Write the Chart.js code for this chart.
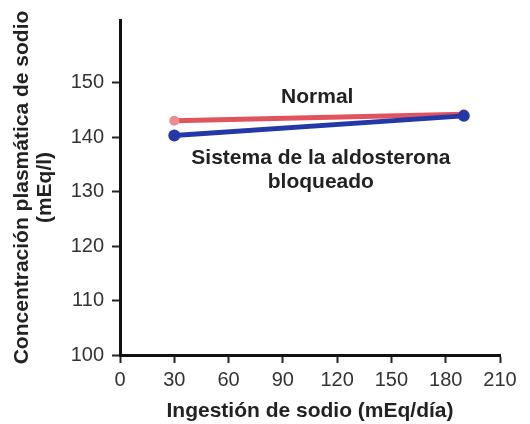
<!DOCTYPE html>
<html>
<head>
<meta charset="utf-8">
<script src="https://cdn.jsdelivr.net/npm/chart.js@4/dist/chart.umd.min.js"></script>
<style>
  html, body { margin: 0; padding: 0; background: #fff; }
  #wrap { width: 530px; height: 424px; }
</style>
</head>
<body>
<div id="wrap"><canvas id="chart" width="530" height="424"></canvas></div>
<script>
// data
var intake = [30, 190];
var normal = [143.0, 144.2];
var blocked = [140.3, 143.9];
var xTicks = [0, 30, 60, 90, 120, 150, 180, 210];
var yTicks = [100, 110, 120, 130, 140, 150];

var font = "'Liberation Sans', Arial, sans-serif";
var ink = "#222";

// curve labels placed in data space
var curveLabels = [
  { text: "Normal", x: 109, y: 147.4 },
  { text: "Sistema de la aldosterona", x: 111, y: 136.2 },
  { text: "bloqueado", x: 111, y: 131.8 }
];

var labelPlugin = {
  id: "curveLabels",
  afterDatasetsDraw: function(chart) {
    var c = chart.ctx, xs = chart.scales.x, ys = chart.scales.y;
    c.save();
    c.font = "bold 21px " + font;
    c.fillStyle = ink;
    c.textAlign = "center";
    c.textBaseline = "middle";
    curveLabels.forEach(function(l) {
      c.fillText(l.text, xs.getPixelForValue(l.x), ys.getPixelForValue(l.y));
    });
    c.restore();
  }
};

new Chart(document.getElementById("chart"), {
  type: "line",
  data: {
    datasets: [
      {
        label: "Normal",
        data: intake.map(function(x, i) { return { x: x, y: normal[i] }; }),
        borderColor: "#e0545e",
        backgroundColor: "#eb8d93",
        borderWidth: 5,
        pointRadius: 5,
        pointBorderWidth: 0,
        order: 1
      },
      {
        label: "Sistema de la aldosterona bloqueado",
        data: intake.map(function(x, i) { return { x: x, y: blocked[i] }; }),
        borderColor: "#2438a8",
        backgroundColor: "#2438a8",
        borderWidth: 5,
        pointRadius: 6,
        pointBorderWidth: 0,
        order: 0
      }
    ]
  },
  options: {
    responsive: false,
    animation: false,
    layout: { padding: { top: 20, right: 30, left: 0, bottom: 0 } },
    plugins: { legend: { display: false }, tooltip: { enabled: false } },
    scales: {
      x: {
        type: "linear",
        min: 0,
        max: 210,
        afterBuildTicks: function(s) { s.ticks = xTicks.map(function(v) { return { value: v }; }); },
        afterFit: function(s) { s.height = 69; },
        border: { display: true, color: "#111", width: 3 },
        grid: { drawOnChartArea: false, drawTicks: true, tickLength: 8, tickWidth: 2, color: "#222" },
        ticks: { color: "#333", font: { family: font, size: 20 }, padding: 5, maxRotation: 0 },
        title: {
          display: true,
          text: "Ingestión de sodio (mEq/día)",
          color: ink,
          font: { family: font, size: 21, weight: "bold" },
          padding: { top: 0, bottom: 0 }
        }
      },
      y: {
        type: "linear",
        min: 100,
        max: 161.5,
        afterBuildTicks: function(s) { s.ticks = yTicks.map(function(v) { return { value: v }; }); },
        afterFit: function(s) { s.width = 120; },
        border: { display: true, color: "#111", width: 3 },
        grid: { drawOnChartArea: false, drawTicks: true, tickLength: 8, tickWidth: 2, color: "#222" },
        ticks: { color: "#333", font: { family: font, size: 20 }, padding: 8 },
        title: {
          display: true,
          text: ["Concentración plasmática de sodio", "(mEq/l)"],
          color: ink,
          font: { family: font, size: 21, weight: "bold", lineHeight: 1.1 },
          padding: { top: 11, bottom: 0 }
        }
      }
    }
  },
  plugins: [labelPlugin]
});
</script>
</body>
</html>
